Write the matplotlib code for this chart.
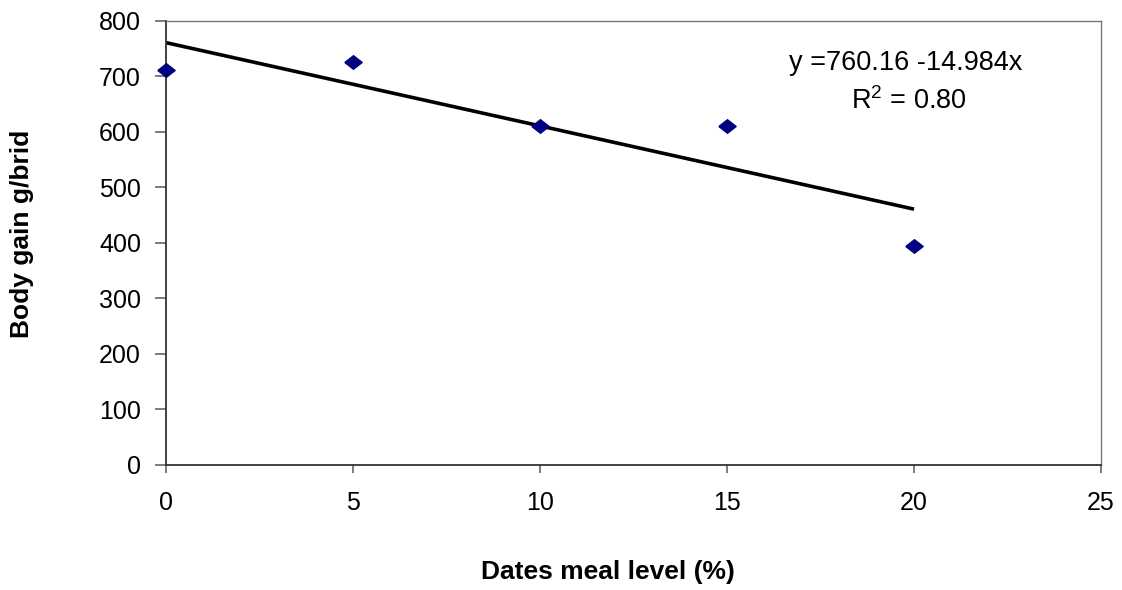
import matplotlib
matplotlib.use('Agg')
import matplotlib.pyplot as plt
import numpy as np

# data
dates_level = [0, 5, 10, 15, 20]
body_gain = [711, 726, 610, 610, 395]

# trendline as printed on the chart
fit_intercept = 760.16
fit_slope = -14.984
fit_label = 'y =760.16 -14.984x'
r2_label = r'R$^2$ = 0.80'

x_ticks = [0, 5, 10, 15, 20, 25]
y_ticks = [0, 100, 200, 300, 400, 500, 600, 700, 800]

plt.rcParams['font.family'] = ['Liberation Sans', 'DejaVu Sans']
plt.rcParams['mathtext.fontset'] = 'custom'
plt.rcParams['mathtext.rm'] = 'Liberation Sans'

fig = plt.figure(figsize=(11.22, 5.90), dpi=100)
ax = fig.add_axes([166 / 1122, 1 - 465 / 590, (1101 - 166) / 1122, (465 - 20.5) / 590])

# regression line over the data range
xl = np.array([dates_level[0], dates_level[-1]])
ax.plot(xl, fit_intercept + fit_slope * xl, color='black', lw=2.6, solid_capstyle='butt', zorder=2)

diamond = [(-1, 0), (0, 0.78), (1, 0), (0, -0.78), (-1, 0)]
ax.plot(dates_level, body_gain, linestyle='none', marker=diamond, markersize=12.5,
        color='#000080', zorder=3, clip_on=False)

ax.set_xlim(0, 25)
ax.set_ylim(0, 800)
ax.set_xticks(x_ticks)
ax.set_yticks(y_ticks)
ax.tick_params(axis='both', labelsize=18, color='#666666', width=1.2)
ax.tick_params(axis='y', length=8, pad=10)
ax.tick_params(axis='x', length=6, pad=13)

for side in ('left', 'bottom'):
    ax.spines[side].set_color('#333333')
    ax.spines[side].set_linewidth(1.3)
for side in ('top', 'right'):
    ax.spines[side].set_color('#777777')
    ax.spines[side].set_linewidth(1.0)

# equation text
ax.text((906 - 166) / 935, (465 - 63) / 444.5, fit_label, transform=ax.transAxes,
        ha='center', va='center', fontsize=19.5)
ax.text((909 - 166) / 935, (465 - 101) / 444.5, r2_label, transform=ax.transAxes,
        ha='center', va='center', fontsize=19.5)

fig.text(608 / 1122, 1 - 572 / 590, 'Dates meal level (%)', ha='center', va='center',
         fontsize=19, fontweight='bold')
fig.text(22 / 1122, 1 - 234 / 590, 'Body gain g/brid', ha='center', va='center',
         rotation=90, fontsize=19, fontweight='bold')

fig.savefig('out.png', dpi=100, facecolor='white')
